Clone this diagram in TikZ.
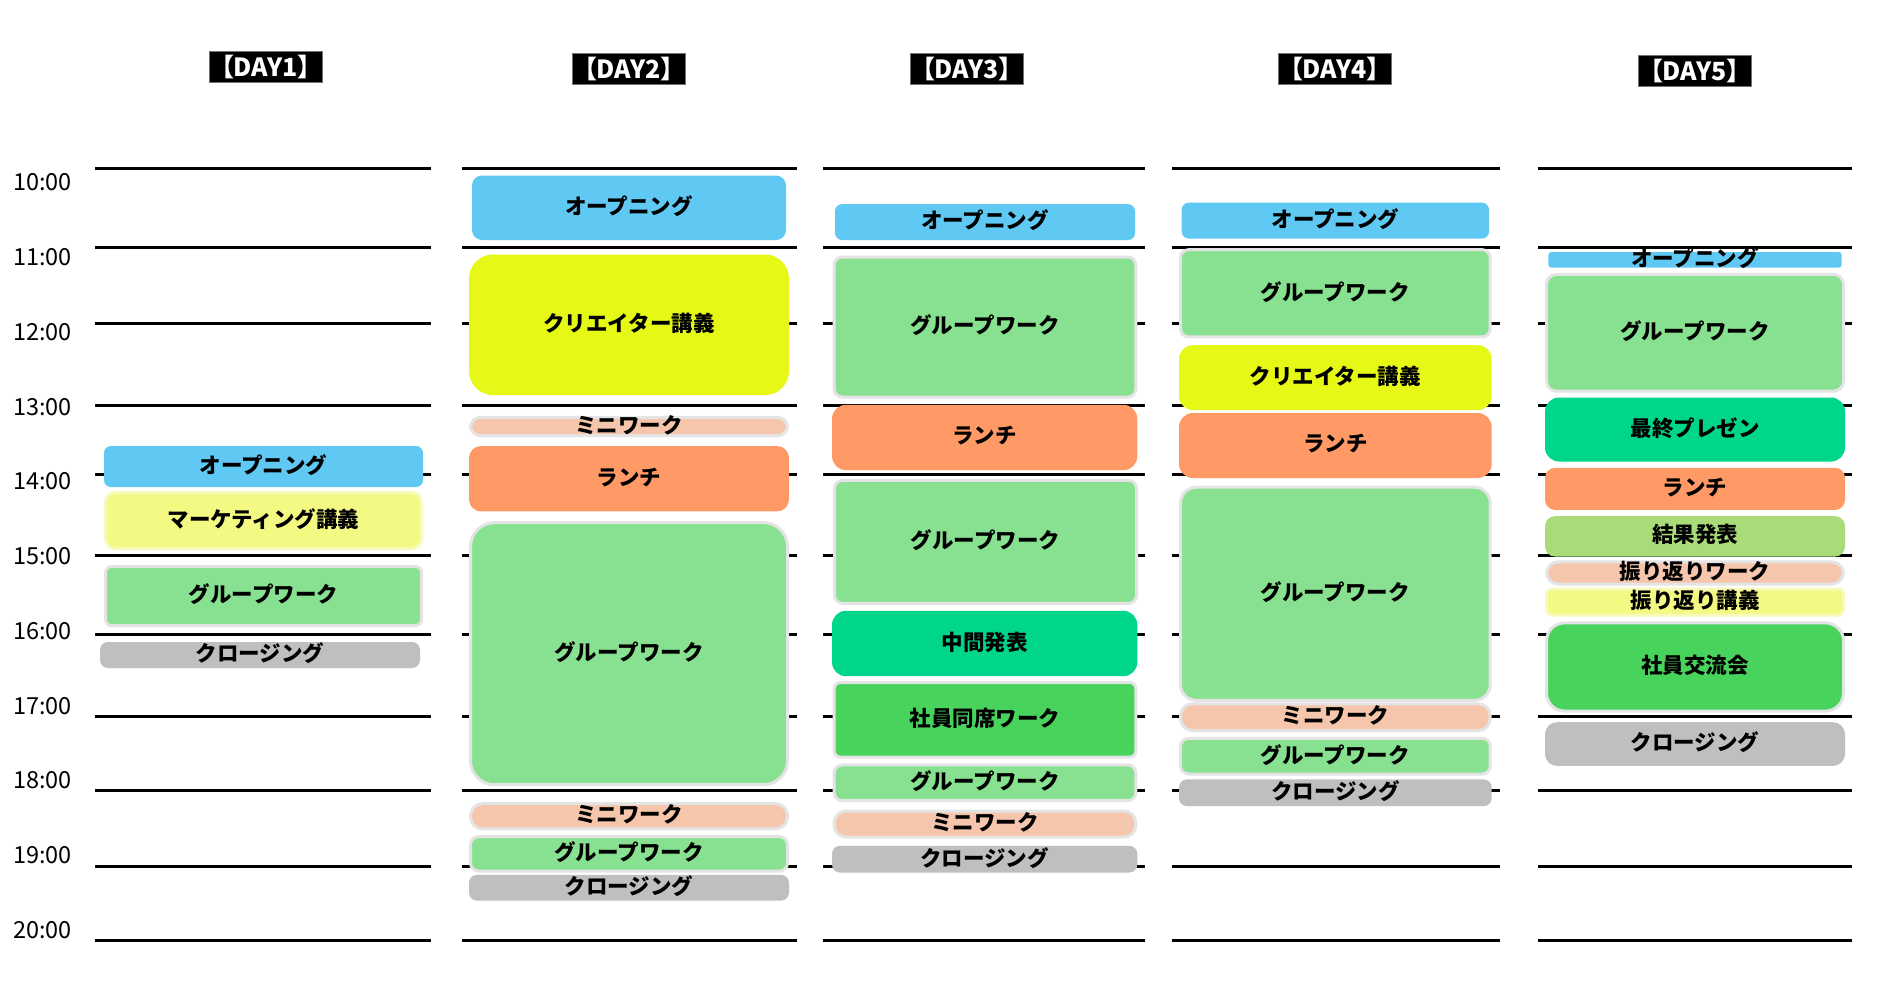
\documentclass[tikz,border=0pt]{standalone}
\usepackage{fontspec}
\newfontfamily\jp{Noto Sans CJK JP}
\newfontfamily\jpp{Noto Sans CJK JP}[RawFeature=+palt]
\definecolor{cblue}{HTML}{5FC9F3}
\definecolor{cyel}{HTML}{E6F916}
\definecolor{clyel}{HTML}{F3F982}
\definecolor{clyelb}{HTML}{F7FAB8}
\definecolor{cgreen}{HTML}{87E190}
\definecolor{cbord}{HTML}{E4E4E4}
\definecolor{corange}{HTML}{FF9966}
\definecolor{cpeach}{HTML}{F5C6AB}
\definecolor{cgray}{HTML}{BFBFBF}
\definecolor{cteal}{HTML}{00D68A}
\definecolor{cmgreen}{HTML}{47D35C}
\definecolor{colive}{HTML}{A9DC78}
% plain box: name, x1, y1, x2, y2, fill, radius, text
\newcommand\tslot[8]{%
  \path[fill=#6, rounded corners=#7pt] (#2,#3) rectangle (#4,#5);
  \node[lbl] (#1) at ({(#2+#4)/2},{(#3+#5)/2}) {#8};}
% bordered box: name, x1, y1, x2, y2, fill, radius, text, border colour
\newcommand\tbslot[9]{%
  \path[fill=#6, draw=#9, line width=3pt, rounded corners=#7pt] ({#2+1.5},{#3+1.5}) rectangle ({#4-1.5},{#5-1.5});
  \node[lbl] (#1) at ({(#2+#4)/2},{(#3+#5)/2}) {#8};}
\begin{document}
\begin{tikzpicture}[x=1pt,y=-1pt,
  hl/.style={line width=3pt,black},
  lbl/.style={inner sep=0pt, yshift=1.5pt, font=\jp\bfseries\fontsize{21.5}{24}\selectfont},
  tl/.style={inner sep=0pt, anchor=west, font=\jp\fontsize{23.5}{25}\selectfont},
  dl/.style={fill=black, draw=black!55, line width=0.6pt, text=white, inner sep=0pt,
    minimum width=113pt, minimum height=31pt, font=\jpp\bfseries\fontsize{25}{27}\selectfont}]
\useasboundingbox (0,0) rectangle (1884,994);
\fill[white] (0,0) rectangle (1884,994);
% hour lines
\foreach \a/\b in {95/431,462/797,823/1145,1172/1500,1538/1852}{
  \foreach \y in {168,247,323.5,405.5,474,555,634,716.7,790.5,866.5,940}{
    \draw[hl] (\a,\y) -- (\b,\y);}}
% time labels
\foreach \t [count=\i from 0] in {10,11,12,13,14,15,16,17,18,19,20}{
  \node[tl] (t\t) at (13,{182.5+74.75*\i}) {\t:00};}
% day labels
\node[dl] (d1) at (266,66.7) {【DAY1】};
\node[dl] (d2) at (628.6,69.1) {【DAY2】};
\node[dl] (d3) at (966.8,69.1) {【DAY3】};
\node[dl] (d4) at (1335,69.1) {【DAY4】};
\node[dl] (d5) at (1694.7,70.7) {【DAY5】};
% DAY1
\tslot{a1}{104}{446}{423}{487}{cblue}{7}{オープニング}
\tbslot{a2}{104}{491}{423}{550}{clyel}{10}{マーケティング講義}{clyelb}
\tbslot{a3}{104}{565}{423}{627}{cgreen}{6}{グループワーク}{cbord}
\tslot{a4}{100}{642}{420}{668}{cgray}{8}{クロージング}
% DAY2
\tslot{b1}{472}{175.5}{786}{240}{cblue}{10}{オープニング}
\tslot{b2}{469}{254.5}{789}{395.1}{cyel}{24}{クリエイター講義}
\tbslot{b3}{469}{415.9}{789}{437.2}{cpeach}{10}{ミニワーク}{cbord}
\tslot{b4}{469}{446}{789}{511.4}{corange}{12}{ランチ}
\tbslot{b5}{469}{521.1}{789}{786.2}{cgreen}{24}{グループワーク}{cbord}
\tbslot{b6}{469}{802.2}{789}{830.3}{cpeach}{12}{ミニワーク}{cbord}
\tbslot{b7}{469}{835.2}{789}{872.5}{cgreen}{8}{グループワーク}{cbord}
\tslot{b8}{469}{874.9}{789}{900.6}{cgray}{8}{クロージング}
% DAY3
\tslot{c1}{835}{204.1}{1135}{240}{cblue}{7}{オープニング}
\tbslot{c2}{832.7}{255.5}{1137.3}{398.5}{cgreen}{8}{グループワーク}{cbord}
\tslot{c3}{832}{404.8}{1137.3}{470.2}{corange}{14}{ランチ}
\tbslot{c4}{833}{478.9}{1138}{604.9}{cgreen}{8}{グループワーク}{cbord}
\tslot{c5}{832}{610.8}{1137.3}{676.2}{cteal}{14}{中間発表}
\tbslot{c6}{832.7}{681}{1137.3}{758.6}{cmgreen}{6}{社員同席ワーク}{cbord}
\tbslot{c7}{832.7}{763.4}{1137.3}{802.2}{cgreen}{8}{グループワーク}{cbord}
\tbslot{c8}{832.7}{809.5}{1137.3}{838.6}{cpeach}{12}{ミニワーク}{cbord}
\tslot{c9}{832}{845.8}{1137.3}{872.5}{cgray}{8}{クロージング}
% DAY4
\tslot{e1}{1181.7}{202.7}{1489}{238.5}{cblue}{7}{オープニング}
\tbslot{e2}{1179}{248.2}{1491.7}{338.4}{cgreen}{8}{グループワーク}{cbord}
\tslot{e3}{1179}{345.1}{1491.7}{410.1}{cyel}{14}{クリエイター講義}
\tslot{e4}{1179}{413}{1491.7}{478}{corange}{14}{ランチ}
\tbslot{e5}{1179}{485.7}{1491.7}{701.9}{cgreen}{16}{グループワーク}{cbord}
\tbslot{e6}{1179}{702.3}{1491.7}{732}{cpeach}{12}{ミニワーク}{cbord}
\tbslot{e7}{1179}{736.8}{1491.7}{775.5}{cgreen}{8}{グループワーク}{cbord}
\tslot{e8}{1179}{779.4}{1491.7}{806.1}{cgray}{8}{クロージング}
% DAY5
\tslot{f1}{1548.3}{252.1}{1841.7}{267.6}{cblue}{3}{オープニング}
\tbslot{f2}{1545}{272.9}{1845}{392.6}{cgreen}{10}{グループワーク}{cbord}
\tslot{f3}{1545}{397.5}{1845}{461.5}{cteal}{14}{最終プレゼン}
\tslot{f4}{1545}{467.8}{1845}{509.9}{corange}{10}{ランチ}
\tslot{f5}{1545}{516.2}{1845}{556.5}{colive}{10}{結果発表}
\tbslot{f6}{1545}{560.3}{1845}{585.6}{cpeach}{12}{振り返りワーク}{cbord}
\tbslot{f7}{1545}{587.5}{1845}{616.6}{clyel}{6}{振り返り講義}{clyelb}
\tbslot{f8}{1545}{621.4}{1845}{712.5}{cmgreen}{18}{社員交流会}{cbord}
\tslot{f9}{1545}{722.2}{1845}{765.9}{cgray}{12}{クロージング}
\end{tikzpicture}
\end{document}
